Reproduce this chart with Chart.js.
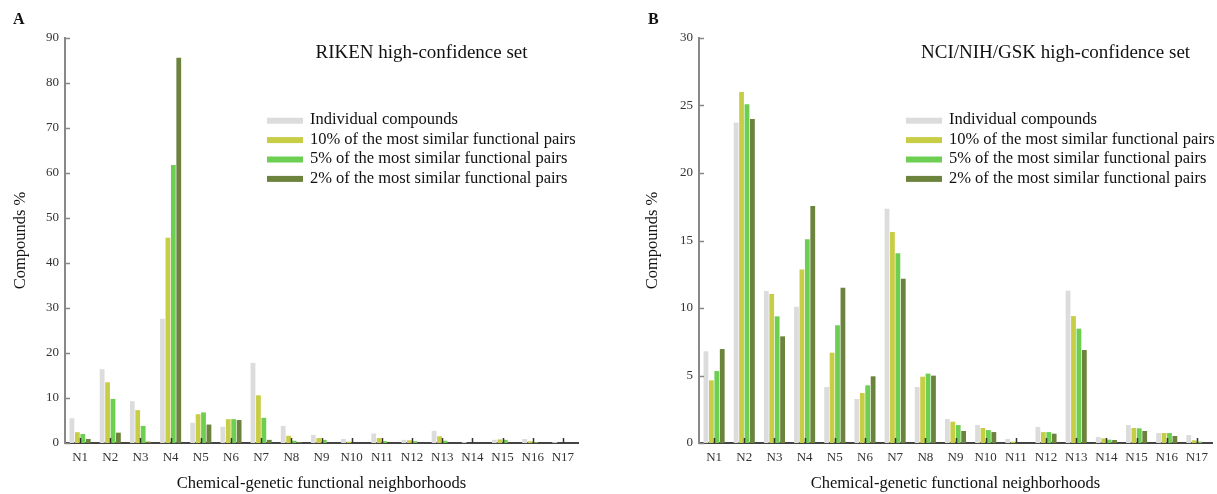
<!DOCTYPE html>
<html>
<head>
<meta charset="utf-8">
<script src="https://cdn.jsdelivr.net/npm/chart.js@4.4.1/dist/chart.umd.min.js"></script>
<style>
body { margin: 0; background: #fff; }
#wrap { position: relative; width: 1217px; height: 494px; }
#wrap canvas { position: absolute; top: 0; }
</style>
</head>
<body>
<div id="wrap">
  <canvas id="rikenChart" width="608" height="494" style="left:0px"></canvas>
  <canvas id="nciChart" width="585" height="494" style="left:632px"></canvas>
</div>
<script>
// categories (chemical-genetic neighborhoods)
var neighborhoods = ["N1","N2","N3","N4","N5","N6","N7","N8","N9","N10","N11","N12","N13","N14","N15","N16","N17"];

var seriesNames = [
  "Individual compounds",
  "10% of the most similar functional pairs",
  "5% of the most similar functional pairs",
  "2% of the most similar functional pairs"
];
var seriesColors = ["#dcdcdc", "#c8cd46", "#6ccf52", "#6b833c"];

// panel A - RIKEN high-confidence set (Compounds %)
var rikenIndividual = [5.5, 16.4, 9.3, 27.6, 4.5, 3.6, 17.8, 3.8, 1.8, 0.9, 2.1, 0.7, 2.7, 0.2, 0.7, 0.9, 0.2];
var riken10 = [2.4, 13.5, 7.3, 45.6, 6.4, 5.3, 10.6, 1.6, 1.1, 0.3, 1.1, 0.6, 1.5, 0, 0.8, 0.4, 0];
var riken5  = [2.0, 9.8, 3.8, 61.8, 6.8, 5.3, 5.6, 0.5, 0.7, 0, 0.4, 0.4, 0.5, 0, 0.7, 0.2, 0];
var riken2  = [0.9, 2.3, 0.3, 85.6, 4.1, 5.1, 0.7, 0.2, 0, 0, 0, 0, 0, 0, 0, 0, 0];

// panel B - NCI/NIH/GSK high-confidence set (Compounds %)
var nciIndividual = [6.8, 23.75, 11.26, 10.1, 4.15, 3.26, 17.36, 4.15, 1.78, 1.33, 0.3, 1.19, 11.28, 0.44, 1.33, 0.74, 0.59];
var nci10 = [4.64, 26.0, 11.04, 12.86, 6.69, 3.7, 15.63, 4.91, 1.58, 1.11, 0.1, 0.81, 9.4, 0.34, 1.11, 0.74, 0.2];
var nci5  = [5.33, 25.1, 9.38, 15.1, 8.72, 4.27, 14.05, 5.14, 1.33, 0.96, 0, 0.81, 8.47, 0.25, 1.09, 0.74, 0.1];
var nci2  = [6.96, 24.0, 7.9, 17.56, 11.5, 4.94, 12.17, 4.99, 0.89, 0.81, 0, 0.69, 6.89, 0.22, 0.89, 0.52, 0];

var serif = "'Liberation Serif', 'Times New Roman', serif";

// draws inward ticks, the panel letter, the set title and the legend
var decorPlugin = {
  id: 'decor',
  afterDatasetsDraw: function(chart) {
    var ctx = chart.ctx;
    var area = chart.chartArea;
    var xs = chart.scales.x;
    var ys = chart.scales.y;
    ctx.save();
    ctx.lineWidth = 1.5;
    ctx.strokeStyle = '#333';
    ctx.beginPath();
    for (var i = 0; i < xs.ticks.length; i++) {
      var px = Math.round(xs.getPixelForTick(i)) + 0.5;
      ctx.moveTo(px, area.bottom);
      ctx.lineTo(px, area.bottom - 5);
    }
    ctx.stroke();
    ctx.strokeStyle = '#888';
    ctx.beginPath();
    for (var j = 0; j < ys.ticks.length; j++) {
      var py = Math.round(ys.getPixelForTick(j)) + 0.5;
      ctx.moveTo(area.left, py);
      ctx.lineTo(area.left + 5, py);
    }
    ctx.stroke();
    ctx.restore();
  },
  afterDraw: function(chart, args, opts) {
    var ctx = chart.ctx;
    var area = chart.chartArea;
    var w = area.right - area.left;
    ctx.save();
    ctx.fillStyle = '#111';
    ctx.textBaseline = 'alphabetic';

    ctx.font = 'bold 16px ' + serif;
    ctx.textAlign = 'left';
    ctx.fillText(opts.letter, opts.letterX, 24);

    ctx.font = '19px ' + serif;
    ctx.textAlign = 'center';
    ctx.fillText(opts.title, area.left + 0.695 * w, area.top + 20.3);

    ctx.font = '16.5px ' + serif;
    ctx.textAlign = 'left';
    var lx = area.left + opts.legendX;
    chart.data.datasets.forEach(function(ds, k) {
      var cy = area.top + 82.7 + k * 19.4;
      ctx.fillStyle = ds.backgroundColor;
      ctx.fillRect(lx, cy - 3, 36, 6);
      ctx.fillStyle = '#111';
      ctx.fillText(ds.label, lx + 43, cy + 3.7);
    });
    ctx.restore();
  }
};

function makeDatasets(values) {
  var out = [];
  values.forEach(function(v, i) {
    out.push({
      label: seriesNames[i],
      data: v,
      backgroundColor: seriesColors[i],
      borderWidth: 0,
      categoryPercentage: 0.72,
      barPercentage: 0.88
    });
  });
  return out;
}

function makeChart(id, values, yMax, yStep, axisWidth, padRight, decor) {
  return new Chart(document.getElementById(id), {
    type: 'bar',
    data: { labels: neighborhoods, datasets: makeDatasets(values) },
    plugins: [decorPlugin],
    options: {
      responsive: false,
      animation: false,
      layout: { padding: { left: 0, top: 38, right: padRight, bottom: 0 } },
      plugins: {
        legend: { display: false },
        tooltip: { enabled: false },
        decor: decor
      },
      scales: {
        x: {
          grid: { display: false, drawTicks: false },
          border: { display: true, color: '#444', width: 2 },
          ticks: { padding: 7, color: '#333', font: { family: serif, size: 13 }, maxRotation: 0, autoSkip: false },
          title: { display: true, text: 'Chemical-genetic functional neighborhoods', color: '#111',
                   font: { family: serif, size: 16.5 }, padding: { top: 0, bottom: 0 } },
          afterFit: function(scale) { scale.height = 51; }
        },
        y: {
          min: 0,
          max: yMax,
          grid: { display: false, drawTicks: false },
          border: { display: true, color: '#888', width: 2 },
          ticks: { stepSize: yStep, padding: 6, color: '#333', font: { family: serif, size: 13 } },
          title: { display: true, text: 'Compounds %', color: '#111',
                   font: { family: serif, size: 16.5 }, padding: { top: 11, bottom: 0 } },
          afterFit: function(scale) { scale.width = axisWidth; }
        }
      }
    }
  });
}

var rikenChart = makeChart('rikenChart', [rikenIndividual, riken10, riken5, riken2], 90, 10, 65, 30,
  { letter: 'A', letterX: 13, title: 'RIKEN high-confidence set', legendX: 202 });

var nciChart = makeChart('nciChart', [nciIndividual, nci10, nci5, nci2], 30, 5, 67, 5,
  { letter: 'B', letterX: 16, title: 'NCI/NIH/GSK high-confidence set', legendX: 207 });
</script>
</body>
</html>
